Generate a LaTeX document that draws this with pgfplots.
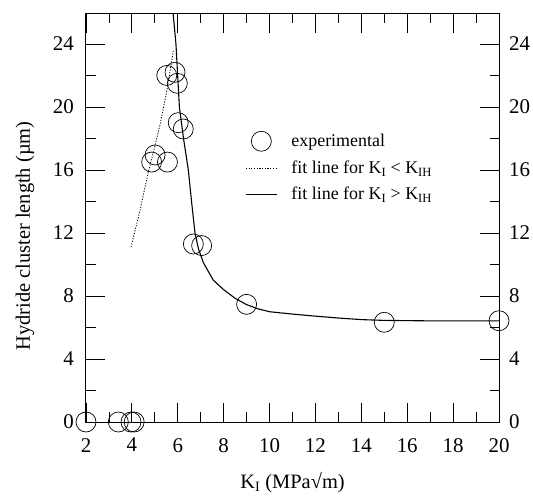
\documentclass[border=0pt]{standalone}
\usepackage{fontspec}
\setmainfont{Liberation Serif}
\usepackage{pgfplots}
\pgfplotsset{compat=1.18}

\newcommand{\tickfont}{\fontsize{21}{21}\selectfont}
\pgfplotsset{
    lineleg/.style={legend image code/.code={\draw[##1] (0bp,0bp) -- (31bp,0bp);}},
    markleg/.style={legend image code/.code={\draw[mark repeat=2,mark phase=2,##1] plot coordinates {(0bp,0bp) (15.5bp,0bp) (31bp,0bp)};}},
}

\begin{document}
\begin{tikzpicture}
\useasboundingbox (-86bp,-74bp) rectangle (447bp,422bp);
\begin{axis}[
    at={(0,0)}, anchor=south west,
    scale only axis,
    width=413bp, height=408bp,
    xmin=2, xmax=20, ymin=0, ymax=25.9,
    xtick={2,4,...,20}, ytick={0,4,...,24},
    minor x tick num=1, minor y tick num=1,
    tick align=inside, xtick pos=both, ytick pos=both,
    major tick length=19bp, minor tick length=9.5bp,
    tick style={black, line width=0.8bp},
    axis line style={line width=1bp},
    clip=false,
    /pgf/number format/assume math mode=true,
    ticklabel style={font=\tickfont},
    xticklabel style={inner sep=0pt, anchor=north, yshift=-16bp},
    yticklabel style={inner sep=0pt, anchor=east, xshift=-12bp},
    xlabel={K\textsubscript{I} (MPa√m)},
    ylabel={Hydride cluster length (µm)},
    label style={font=\fontsize{20.5}{20.5}\selectfont},
    xlabel style={at={(axis description cs:0.5,-0.1618)}, anchor=base},
    ylabel style={at={(axis description cs:-0.1477,0.456)}, anchor=center},
    legend cell align=left,
    legend style={draw=none, fill=none, font=\fontsize{18}{18}\selectfont,
        at={(axis description cs:0.378,0.718)}, anchor=north west,
        row sep=8bp, column sep=12bp},
]
% experimental points
\addplot[only marks, mark=o, mark size=10bp, black, line width=0.7bp, markleg]
coordinates {
    (2,0) (3.41,0) (3.96,0) (4.1,0)
    (4.86,16.5) (5.01,16.95) (5.55,16.5)
    (5.52,22.0) (5.88,22.2) (5.98,21.5)
    (6.02,19.0) (6.24,18.6)
    (6.68,11.3) (7.04,11.2)
    (9.0,7.47) (15.0,6.33) (20,6.43)
};
\addlegendentry{experimental}
% fit below K_IH
\addplot[black, line width=0.8bp, dash pattern=on 1.2bp off 1.5bp, lineleg] coordinates {
    (3.96,11.1) (4.35,13.4) (4.72,15.9) (5.0,17.5) (5.23,18.9) (5.52,21.0) (5.81,23.6)
};
\addlegendentry{fit line for K\textsubscript{I} < K\textsubscript{IH}}
% fit above K_IH
\addplot[black, line width=1.1bp, lineleg] coordinates {
    (5.80,25.9) (5.92,24) (6.07,20) (6.25,18) (6.46,16) (6.6,14) (6.75,12)
    (6.9,11) (7.12,10.1) (7.55,9.0) (8.0,8.4) (8.5,7.85) (9.0,7.45) (9.5,7.18)
    (10.0,7.0) (11.0,6.85) (12,6.72) (13,6.6) (14,6.5) (15,6.45) (17,6.42) (20,6.42)
};
\addlegendentry{fit line for K\textsubscript{I} > K\textsubscript{IH}}
\end{axis}
% right-hand tick labels
\begin{axis}[
    at={(0,0)}, anchor=south west,
    scale only axis,
    width=413bp, height=408bp,
    xmin=2, xmax=20, ymin=0, ymax=25.9,
    hide x axis,
    axis y line*=right,
    y axis line style={draw=none},
    ytick={0,4,...,24},
    major tick length=0pt,
    /pgf/number format/assume math mode=true,
    yticklabel style={font=\tickfont, inner sep=0pt, anchor=west, xshift=10bp},
]
\end{axis}
\end{tikzpicture}
\end{document}
